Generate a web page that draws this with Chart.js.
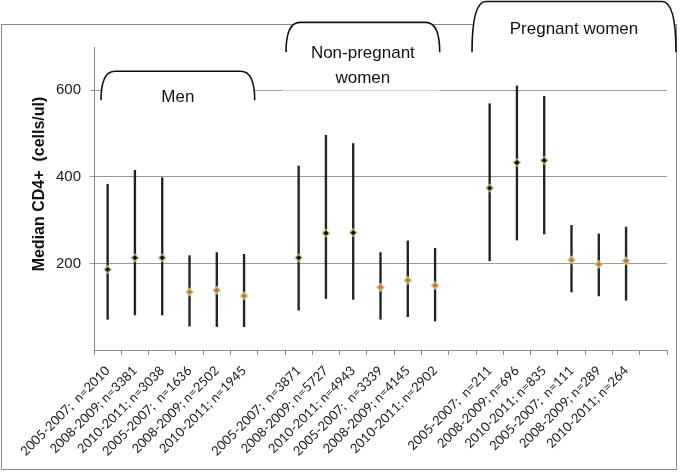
<!DOCTYPE html>
<html>
<head>
<meta charset="utf-8">
<script src="https://cdn.jsdelivr.net/npm/chart.js@4.4.1/dist/chart.umd.min.js"></script>
<style>
  body { margin: 0; background: #fff; }
  #wrap { width: 685px; height: 472px; }
</style>
</head>
<body>
<div id="wrap"><canvas id="cd4Chart"></canvas></div>
<script>
// Median CD4+ by period and population (blank slots separate the groups)
const categories = [
  "2005-2007;  n=2010", "2008-2009; n=3381", "2010-2011; n=3038",
  "2005-2007;  n=1636", "2008-2009; n=2502", "2010-2011; n=1945",
  "",
  "2005-2007;  n=3871", "2008-2009; n=5727", "2010-2011; n=4943",
  "2005-2007;  n=3339", "2008-2009; n=4145", "2010-2011; n=2902",
  "",
  "2005-2007;  n=211", "2008-2009; n=696", "2010-2011; n=835",
  "2005-2007;  n=111", "2008-2009; n=289", "2010-2011; n=264",
  ""
];

const medians = [186, 213, 213, 134, 138, 125, null,
                 213, 270, 271, 145, 161, 149, null,
                 374, 433, 438, 208, 198, 206, null];
const lower = [71, 81, 81, 55, 54, 54, null,
               92, 119, 117, 71, 77, 67, null,
               206, 254, 268, 134, 125, 115, null];
const upper = [383, 415, 398, 218, 225, 221, null,
               425, 496, 477, 225, 252, 235, null,
               569, 610, 586, 288, 268, 284, null];

// first three of each group dark, last three orange
const markerKind = [0, 0, 0, 1, 1, 1, null, 0, 0, 0, 1, 1, 1, null, 0, 0, 0, 1, 1, 1, null];

const yTicks = [200, 400, 600];

// group headers: label lines, slot range and brace extent
const groups = [
  { lines: ["Men"], from: 0, to: 5, dl: 7, dr: -3, top: 644, bottom: 577, textY: 97 },
  { lines: ["Non-pregnant", "women"], from: 7, to: 12, dl: 1, dr: -9, top: 757, bottom: 688, textY: 53 },
  { lines: ["Pregnant women"], from: 14, to: 20, dl: -4, dr: 9, top: 805, bottom: 688, textY: 29 }
];

const ranges = lower.map((lo, i) => (lo === null ? null : [lo, upper[i]]));

const frameAndBraces = {
  id: "frameAndBraces",
  beforeDraw(chart) {
    const ctx = chart.ctx;
    ctx.save();
    ctx.strokeStyle = "#8a8a8a";
    ctx.lineWidth = 1;
    ctx.strokeRect(1.5, 24.5, 675, 445);
    ctx.restore();
  },
  afterDraw(chart) {
    const ctx = chart.ctx;
    const x = chart.scales.x;
    const y = chart.scales.y;
    const w = x.getPixelForValue(1) - x.getPixelForValue(0);

    ctx.save();
    // faint box behind the second header, softens the 600 gridline
    const nx = x.getPixelForValue(7) - w / 2 - 3;
    ctx.fillStyle = "rgba(255,255,255,0.55)";
    ctx.fillRect(nx, y.getPixelForValue(688), x.getPixelForValue(12) + w / 2 - 9 - nx, 41);

    groups.forEach((g) => {
      const x1 = x.getPixelForValue(g.from) - w / 2 + g.dl;
      const x2 = x.getPixelForValue(g.to) + w / 2 + g.dr;
      const yt = y.getPixelForValue(g.top);
      const yb = y.getPixelForValue(g.bottom);
      const r = 14;
      ctx.beginPath();
      ctx.moveTo(x1, yb);
      ctx.quadraticCurveTo(x1, yt, x1 + r, yt);
      ctx.lineTo(x2 - r, yt);
      ctx.quadraticCurveTo(x2, yt, x2, yb);
      ctx.fillStyle = "#fff";
      ctx.fill();
      ctx.strokeStyle = "#111";
      ctx.lineWidth = 1.6;
      ctx.stroke();

      ctx.fillStyle = "#111";
      ctx.font = '17px "Liberation Sans", Arial, sans-serif';
      ctx.textAlign = "center";
      ctx.textBaseline = "middle";
      g.lines.forEach((t, k) => ctx.fillText(t, (x1 + x2) / 2, g.textY + k * 25));
    });

    // y axis title
    ctx.translate(40, 184);
    ctx.rotate(-Math.PI / 2);
    ctx.font = 'bold 16px "Liberation Sans", Arial, sans-serif';
    ctx.textAlign = "center";
    ctx.textBaseline = "middle";
    ctx.fillStyle = "#111";
    ctx.fillText("Median CD4+  (cells/ul)", 0, 0);
    ctx.restore();
  }
};

new Chart(document.getElementById("cd4Chart"), {
  type: "bar",
  data: {
    labels: categories,
    datasets: [
      {
        type: "line",
        label: "Median",
        data: medians,
        showLine: false,
        pointStyle: "rectRot",
        pointRadius: 3.6,
        pointBackgroundColor: markerKind.map((k) => (k === 1 ? "#d0694a" : "#0a0a0a")),
        pointBorderColor: "rgba(200,216,120,0.8)",
        pointBorderWidth: 1.5,
        order: 0
      },
      {
        label: "Range",
        data: ranges,
        backgroundColor: "#222",
        barThickness: 1.7,
        order: 1
      }
    ]
  },
  options: {
    responsive: true,
    maintainAspectRatio: false,
    animation: false,
    layout: { padding: { top: 47, right: 18, left: 0, bottom: 0 } },
    plugins: {
      legend: { display: false },
      tooltip: { enabled: false }
    },
    scales: {
      x: {
        offset: true,
        afterFit: (scale) => { scale.height = 122; },
        grid: {
          drawOnChartArea: false,
          drawTicks: true,
          tickLength: 5,
          color: "#8a8a8a"
        },
        border: { color: "#8a8a8a", width: 1 },
        ticks: {
          autoSkip: false,
          minRotation: 45,
          maxRotation: 45,
          padding: 8,
          color: "#1a1a1a",
          font: { family: "Lato", size: 13 }
        }
      },
      y: {
        min: 0,
        max: 700,
        afterFit: (scale) => { scale.width = 94; },
        afterBuildTicks: (scale) => { scale.ticks = yTicks.map((v) => ({ value: v })); },
        grid: {
          color: "#9a9a9a",
          tickLength: 4
        },
        border: { color: "#8a8a8a", width: 1 },
        ticks: {
          padding: 9,
          color: "#1a1a1a",
          font: { family: '"Liberation Sans", Arial', size: 15 }
        }
      }
    }
  },
  plugins: [frameAndBraces]
});
</script>
</body>
</html>
